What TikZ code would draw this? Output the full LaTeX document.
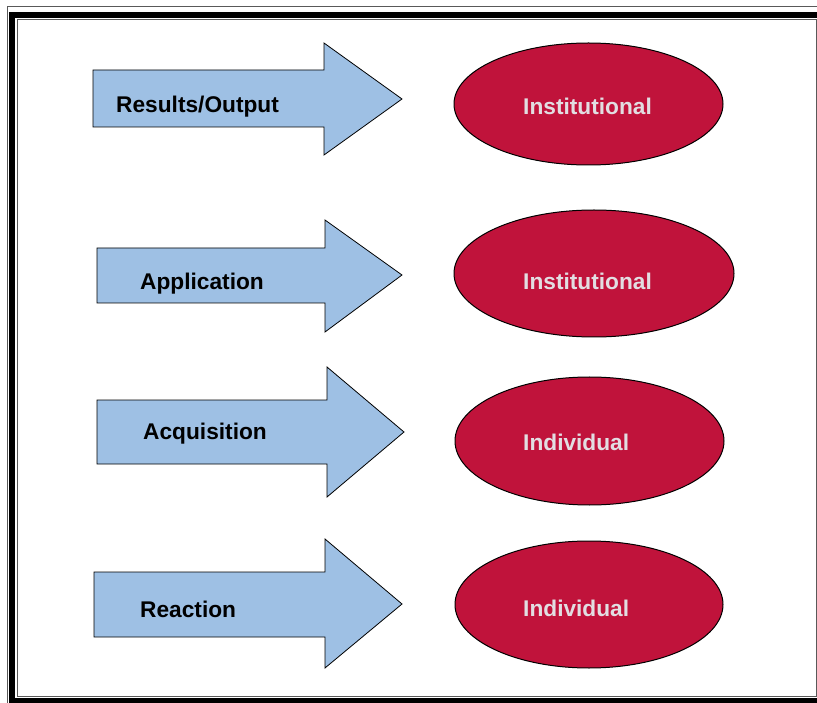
\documentclass[tikz,border=0pt]{standalone}
\usepackage{fontspec}
\setmainfont{Liberation Sans}
\usetikzlibrary{shapes}

\definecolor{arrowblue}{RGB}{158,192,228}
\definecolor{crimson}{RGB}{192,19,59}
\definecolor{labelgrey}{RGB}{226,222,226}

\begin{document}
\begin{tikzpicture} [x=1pt,y=-1pt,line join=miter,
  blockarrow/.style={draw=black,fill=arrowblue,line width=0.8pt},
  level/.style={anchor=base west,inner sep=0pt,font=\bfseries\fontsize{22.7}{26}\selectfont},
  owner/.style={ellipse,draw=black,fill=crimson,line width=1pt,inner sep=0pt},
  ownertext/.style={level,text=labelgrey}]

  \useasboundingbox (0,0) rectangle (817,703);

  % frame: thin grey, thick black, thin grey
  \draw[gray!70!black,line width=1pt] (7,7) rectangle (835,712);
  \draw[black,line width=6.5pt] (12,15) rectangle (827,701);
  \draw[gray!70!black,line width=1pt] (17.5,19.5) rectangle (816,696);

  % arrows
  \draw[blockarrow] (93,70) -- (324,70) -- (324,43) -- (402,99) -- (324,155) -- (324,127) -- (93,127) -- cycle;
  \draw[blockarrow] (97,248) -- (325,248) -- (325,220) -- (402,275) -- (325,332) -- (325,303) -- (97,303) -- cycle;
  \draw[blockarrow] (97,400) -- (327,400) -- (327,367) -- (404,432) -- (327,497) -- (327,464) -- (97,464) -- cycle;
  \draw[blockarrow] (94,572) -- (325,572) -- (325,539) -- (402,604) -- (325,668) -- (325,637) -- (94,637) -- cycle;

  \node[level] (res) at (116,113) {Results/Output};
  \node[level] (app) at (140,290) {Application};
  \node[level] (acq) at (143,439) {Acquisition};
  \node[level] (rea) at (140,617) {Reaction};

  % ellipses
  \node[owner] (inst1) [minimum width=269pt,minimum height=122pt] at (588.5,104) {};
  \node[owner] (inst2) [minimum width=280pt,minimum height=127pt] at (594,273.5) {};
  \node[owner] (ind1) [minimum width=269pt,minimum height=128pt] at (589.5,441) {};
  \node[owner] (ind2) [minimum width=268pt,minimum height=127pt] at (589,604.5) {};

  \node[ownertext] (inst1txt) at (523,115) {Institutional};
  \node[ownertext] (inst2txt) at (523,290) {Institutional};
  \node[ownertext] (ind1txt) at (523,450) {Individual};
  \node[ownertext] (ind2txt) at (523,616) {Individual};
\end{tikzpicture}
\end{document}
